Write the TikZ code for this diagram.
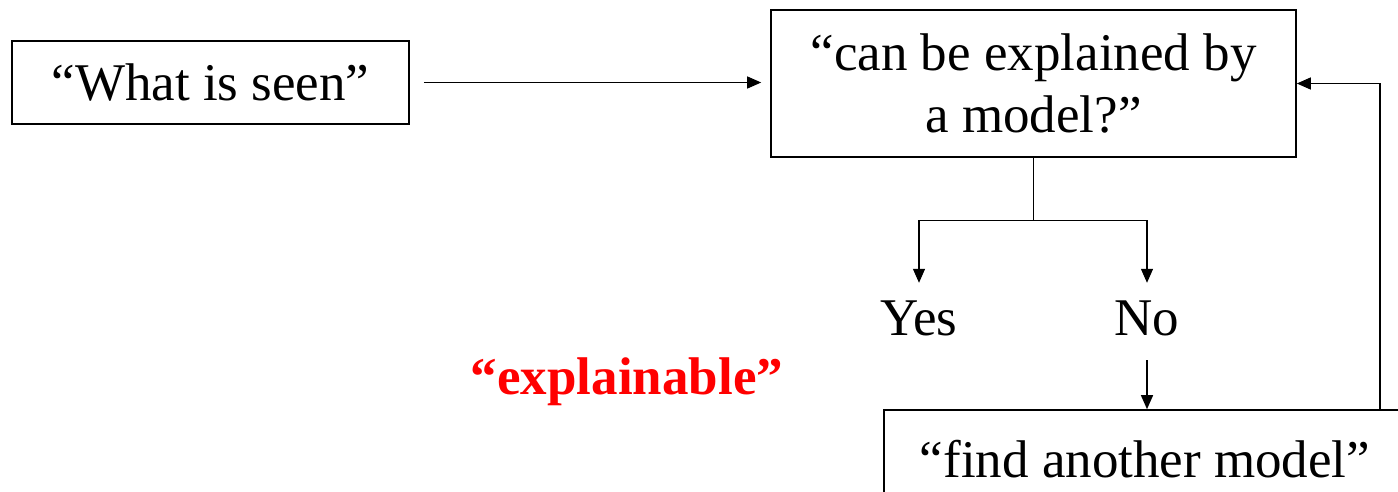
\documentclass[tikz,border=0pt]{standalone}
\usepackage{fontspec}
\setmainfont{Liberation Serif}
\usetikzlibrary{arrows.meta}
\begin{document}
\begin{tikzpicture}[x=1pt,y=-1pt,
  box/.style={draw, line width=1.6pt, inner sep=0pt, align=center,
    font=\fontsize{53}{62}\selectfont},
  lbl/.style={inner sep=0pt, text height=36pt, text depth=12pt,
    font=\fontsize{53}{62}\selectfont},
  conn/.style={line width=1.3pt},
  arr/.style={conn, -{Triangle[length=14pt,width=12pt]}}]
\useasboundingbox (0,0) rectangle (1398,491);
\clip (0,0) rectangle (1398,491);
\node[box, minimum width=397pt, minimum height=83pt] (seen) at (210.5,82.5) {“What is seen”};
\node[box, minimum width=525pt, minimum height=147pt] (q) at (1033.5,83.5) {“can be explained by\\a model?”};
\node[box, minimum width=522pt, minimum height=98pt] (find) at (1145,459) {“find another model”};
\node[lbl] (yes) at (919,323) {Yes};
\node[lbl] (no) at (1147,323) {No};
\node[lbl, text=red, font=\fontsize{53}{62}\selectfont\bfseries] (expl) at (627,382) {“explainable”};
\draw[arr, shorten <=14pt, shorten >=9pt] (seen.east) -- (seen.east -| q.west);
\draw[conn] (q.south) -- ++(0,63) coordinate (split);
\draw[arr, shorten >=16pt] (split) -| (yes.north);
\draw[arr, shorten >=16pt] (split) -| (no.north);
\draw[arr, shorten <=13pt] (no.south) -- (no.south |- find.north);
\draw[arr] (find.north) ++(235,0) |- (q.east);
\end{tikzpicture}
\end{document}
